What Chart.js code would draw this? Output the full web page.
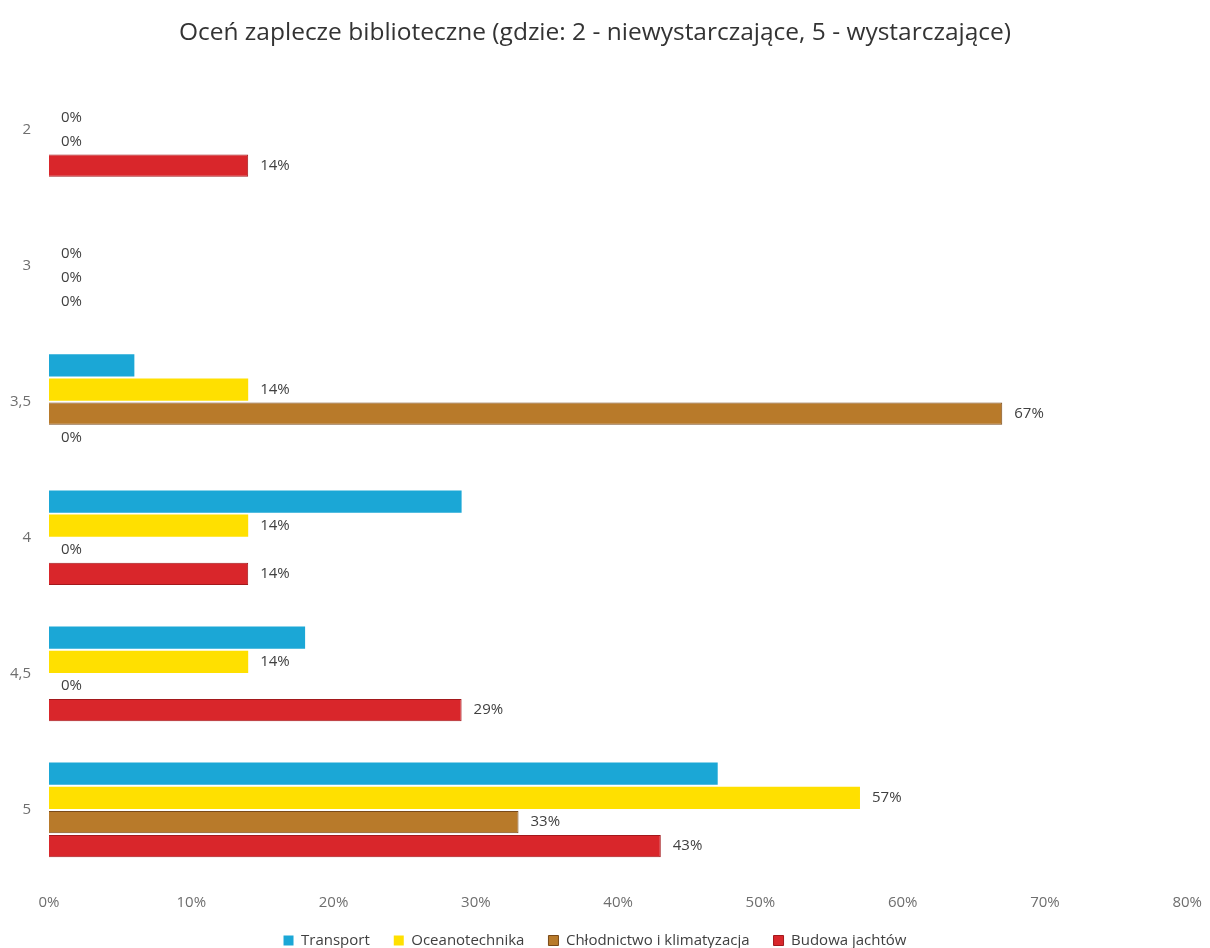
<!DOCTYPE html>
<html>
<head>
<meta charset="utf-8">
<script src="https://cdn.jsdelivr.net/npm/chart.js@4"></script>
<style>
  html, body { margin: 0; padding: 0; background: #fff; }
  #wrap { width: 1210px; height: 948px; }
</style>
</head>
<body>
<div id="wrap"><canvas id="chart"></canvas></div>
<script>
const categories = ["2", "3", "3,5", "4", "4,5", "5"];
const seriesNames = ["Transport", "Oceanotechnika", "Chłodnictwo i klimatyzacja", "Budowa jachtów"];
const transport = [0, 0, 6, 29, 18, 47];
const oceanotechnika = [0, 0, 14, 14, 14, 57];
const chlodnictwo = [0, 0, 67, 0, 0, 33];
const budowa = [14, 0, 0, 14, 29, 43];
const xTicks = [0, 10, 20, 30, 40, 50, 60, 70, 80];

const fillColors = ["#1ba7d6", "#ffe000", "#b87a2a", "#d9262b"];
const edgeColors = ["#1ba7d6", "#ffe000", "#7a4a18", "#a3181c"];
const textColor = "#404040";
const tickColor = "#6e6e6e";
const fontFamily = "'Open Sans', 'Noto Sans', sans-serif";

// etykiety wartości przy słupkach (Transport bez etykiet)
const valueLabels = {
    id: "valueLabels",
    afterDatasetsDraw(chart) {
        const ctx = chart.ctx;
        ctx.save();
        ctx.font = "15px " + fontFamily;
        ctx.fillStyle = textColor;
        ctx.textBaseline = "middle";
        ctx.textAlign = "left";
        chart.data.datasets.forEach((ds, i) => {
            if (i === 0) return;
            chart.getDatasetMeta(i).data.forEach((bar, j) => {
                ctx.fillText(ds.data[j] + "%", bar.x + 12, bar.y);
            });
        });
        ctx.restore();
    }
};

// legenda trochę niższa, żeby zbliżyć ją do osi
const legendTrim = {
    id: "legendTrim",
    beforeLayout(chart) {
        const lg = chart.legend;
        if (!lg || lg._trimmed) return;
        const fit = lg.fit;
        lg.fit = function () {
            fit.call(this);
            this.height -= 10;
        };
        lg._trimmed = true;
    }
};

const data = [transport, oceanotechnika, chlodnictwo, budowa];

new Chart(document.getElementById("chart"), {
    type: "bar",
    data: {
        labels: categories,
        datasets: seriesNames.map((name, i) => ({
            label: name,
            data: data[i],
            backgroundColor: fillColors[i],
            borderColor: edgeColors[i],
            borderWidth: i >= 2 ? 1 : 0,
            barPercentage: 0.92,
            categoryPercentage: 0.71
        }))
    },
    options: {
        indexAxis: "y",
        responsive: true,
        maintainAspectRatio: false,
        animation: false,
        layout: { padding: { left: 0, right: 20, top: 8, bottom: 0 } },
        plugins: {
            title: {
                display: true,
                text: "Oceń zaplecze biblioteczne (gdzie: 2 - niewystarczające, 5 - wystarczające)",
                color: "#333333",
                font: { family: fontFamily, size: 24.5, weight: "normal" },
                padding: { top: 10, bottom: 14 }
            },
            legend: {
                position: "bottom",
                labels: {
                    color: textColor,
                    font: { family: fontFamily, size: 15 },
                    boxWidth: 10,
                    boxHeight: 10,
                    padding: 24
                }
            },
            tooltip: { enabled: false }
        },
        scales: {
            x: {
                min: 0,
                max: 80,
                afterBuildTicks: (scale) => { scale.ticks = xTicks.map(v => ({ value: v })); },
                afterFit: (scale) => { scale.height -= 11; },
                grid: { display: false },
                border: { display: false },
                ticks: {
                    color: tickColor,
                    font: { family: fontFamily, size: 15 },
                    padding: 8,
                    callback: (v) => v + "%"
                }
            },
            y: {
                afterFit: (scale) => { scale.width = 49; },
                grid: { display: false },
                border: { display: false },
                ticks: {
                    color: tickColor,
                    font: { family: fontFamily, size: 15 },
                    padding: 10
                }
            }
        }
    },
    plugins: [valueLabels, legendTrim]
});
</script>
</body>
</html>
